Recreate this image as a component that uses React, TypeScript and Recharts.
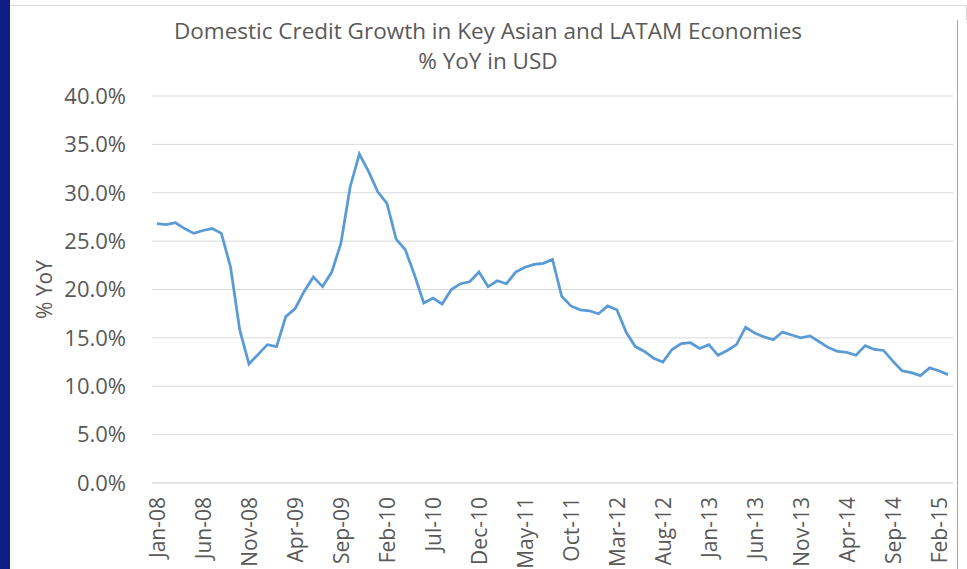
import React from 'react';
import { LineChart, Line, XAxis, YAxis, CartesianGrid } from 'recharts';

const months: string[] = [
  'Jan-08','Feb-08','Mar-08','Apr-08','May-08','Jun-08','Jul-08','Aug-08','Sep-08','Oct-08','Nov-08','Dec-08',
  'Jan-09','Feb-09','Mar-09','Apr-09','May-09','Jun-09','Jul-09','Aug-09','Sep-09','Oct-09','Nov-09','Dec-09',
  'Jan-10','Feb-10','Mar-10','Apr-10','May-10','Jun-10','Jul-10','Aug-10','Sep-10','Oct-10','Nov-10','Dec-10',
  'Jan-11','Feb-11','Mar-11','Apr-11','May-11','Jun-11','Jul-11','Aug-11','Sep-11','Oct-11','Nov-11','Dec-11',
  'Jan-12','Feb-12','Mar-12','Apr-12','May-12','Jun-12','Jul-12','Aug-12','Sep-12','Oct-12','Nov-12','Dec-12',
  'Jan-13','Feb-13','Mar-13','Apr-13','May-13','Jun-13','Jul-13','Aug-13','Sep-13','Oct-13','Nov-13','Dec-13',
  'Jan-14','Feb-14','Mar-14','Apr-14','May-14','Jun-14','Jul-14','Aug-14','Sep-14','Oct-14','Nov-14','Dec-14',
  'Jan-15','Feb-15','Mar-15',
];

const creditGrowth: number[] = [
  26.8, 26.7, 26.9, 26.3, 25.8, 26.1, 26.3, 25.8, 22.3, 15.8, 12.3, 13.3,
  14.3, 14.1, 17.2, 18.0, 19.8, 21.3, 20.3, 21.8, 24.8, 30.6, 34.0, 32.2,
  30.1, 28.9, 25.2, 24.1, 21.5, 18.6, 19.1, 18.5, 20.0, 20.6, 20.8, 21.8,
  20.3, 20.9, 20.6, 21.8, 22.3, 22.6, 22.7, 23.1, 19.3, 18.3, 17.9, 17.8,
  17.5, 18.3, 17.9, 15.6, 14.1, 13.6, 12.9, 12.5, 13.8, 14.4, 14.5, 13.9,
  14.3, 13.2, 13.7, 14.3, 16.1, 15.5, 15.1, 14.8, 15.6, 15.3, 15.0, 15.2,
  14.6, 14.0, 13.6, 13.5, 13.2, 14.2, 13.8, 13.7, 12.6, 11.6, 11.4, 11.1,
  11.9, 11.6, 11.2,
];

const yTicks: number[] = [0, 5, 10, 15, 20, 25, 30, 35, 40];

const titleLine1 = 'Domestic Credit Growth in Key Asian and LATAM Economies';
const titleLine2 = '% YoY in USD';
const yAxisTitle = '% YoY';

const data = months.map((m, i) => ({ month: m, value: creditGrowth[i] }));

const TEXT = '#595959';
const GRID = '#d9d9d9';
const LINE = '#5b9bd5';

const XTick = (props: any) => {
  const { x, y, payload } = props;
  return (
    <text
      x={x}
      y={y}
      transform={`rotate(-90, ${x}, ${y})`}
      textAnchor="end"
      dominantBaseline="central"
      fill={TEXT}
      fontSize={21}
    >
      {payload.value}
    </text>
  );
};

const YLabel = (props: any) => {
  const vb = props.viewBox || {};
  const cx = (vb.x || 0) + 44;
  const cy = (vb.y || 0) + (vb.height || 0) / 2;
  return (
    <text
      x={cx}
      y={cy}
      transform={`rotate(-90, ${cx}, ${cy})`}
      textAnchor="middle"
      dominantBaseline="central"
      fill={TEXT}
      fontSize={21}
    >
      {yAxisTitle}
    </text>
  );
};

const titleStyle: React.CSSProperties = {
  position: 'absolute',
  left: 0,
  width: 976,
  textAlign: 'center',
  fontSize: 22.5,
  lineHeight: '26px',
  color: TEXT,
  whiteSpace: 'nowrap',
};

export default function App() {
  return (
    <div
      style={{
        position: 'absolute',
        left: 0,
        top: 0,
        width: 967,
        height: 569,
        background: '#ffffff',
        overflow: 'hidden',
        fontFamily: "'Open Sans', sans-serif",
      }}
    >
      <div style={{ position: 'absolute', left: 0, top: 0, width: 10, height: 569, background: '#0f1e84' }} />
      <div style={{ position: 'absolute', left: 10, top: 5, width: 956, height: 1, background: GRID }} />
      <div style={{ position: 'absolute', left: 966, top: 5, width: 1, height: 15, background: GRID }} />
      <div style={{ position: 'absolute', left: 957, top: 20, width: 1, height: 549, background: '#9aa6cf' }} />
      <div style={{ ...titleStyle, top: 18 }}>{titleLine1}</div>
      <div style={{ ...titleStyle, top: 48 }}>{titleLine2}</div>
      <div style={{ position: 'absolute', left: 0, top: 0 }}>
        <LineChart
          width={967}
          height={569}
          data={data}
          margin={{ top: 96, right: 14, bottom: 0, left: 0 }}
        >
          <CartesianGrid horizontal vertical={false} stroke={GRID} strokeWidth={1} />
          <XAxis
            dataKey="month"
            interval={4}
            height={86}
            tick={<XTick />}
            tickLine={false}
            tickSize={0}
            tickMargin={14}
            axisLine={{ stroke: GRID }}
            padding={{ left: 5, right: 5 }}
          />
          <YAxis
            width={152}
            domain={[0, 40]}
            ticks={yTicks}
            tickFormatter={(v: number) => `${v.toFixed(1)}%`}
            tick={{ fill: TEXT, fontSize: 22 }}
            tickLine={false}
            tickSize={0}
            tickMargin={26}
            axisLine={false}
            label={{ content: <YLabel /> }}
          />
          <Line
            type="linear"
            dataKey="value"
            stroke={LINE}
            strokeWidth={2.75}
            dot={false}
            isAnimationActive={false}
          />
        </LineChart>
      </div>
    </div>
  );
}
